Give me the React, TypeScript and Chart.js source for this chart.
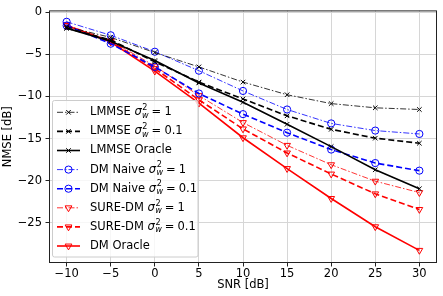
import React, { useEffect, useRef } from "react";
import { Chart, registerables } from "chart.js";
import { drawPoint } from "chart.js/helpers";
Chart.register(...registerables);

const snr = [-10, -5, 0, 5, 10, 15, 20, 25, 30];
const lmmse1 = [-1.75, -3.0, -4.8, -6.5, -8.3, -9.8, -10.85, -11.35, -11.55];
const lmmse01 = [-1.9, -3.3, -5.9, -8.3, -10.3, -12.3, -13.9, -14.95, -15.55];
const lmmseOracle = [-1.9, -3.45, -5.75, -8.4, -10.7, -13.3, -15.95, -18.7, -20.95];
const naive1 = [-1.15, -2.75, -4.7, -6.95, -9.35, -11.55, -13.2, -14.05, -14.45];
const naive01 = [-1.6, -3.75, -6.5, -9.65, -12.1, -14.3, -16.3, -17.9, -18.8];
const sure1 = [-1.5, -3.4, -6.4, -9.9, -13.1, -15.8, -18.1, -20.05, -21.4];
const sure01 = [-1.6, -3.5, -6.7, -10.4, -13.85, -16.7, -19.2, -21.55, -23.4];
const dmOracle = [-1.6, -3.55, -7.0, -10.8, -14.9, -18.55, -22.1, -25.45, -28.25];

const xTicks = [-10, -5, 0, 5, 10, 15, 20, 25, 30];
const yTicks = [0, -5, -10, -15, -20, -25];

const names = ["LMMSE", "LMMSE", "LMMSE Oracle", "DM Naive", "DM Naive", "SURE-DM", "SURE-DM", "DM Oracle"];
const sigmas = ["1", "0.1", "", "1", "0.1", "1", "0.1", ""];

const FONT = '"DejaVu Sans", "Liberation Sans", sans-serif';
const FS = 11.5;

const DASHDOT = [6, 2, 1.5, 2];
const DASHED = [6, 3];

const styles = [
  { color: "#000000", width: 0.8, dash: DASHDOT, marker: "crossRot", rot: 0, r: 3.2 },
  { color: "#000000", width: 1.6, dash: DASHED, marker: "crossRot", rot: 0, r: 3.2 },
  { color: "#000000", width: 1.6, dash: [], marker: "crossRot", rot: 0, r: 3.2 },
  { color: "#0000ff", width: 0.8, dash: DASHDOT, marker: "circle", rot: 0, r: 3.6 },
  { color: "#0000ff", width: 1.6, dash: DASHED, marker: "circle", rot: 0, r: 3.6 },
  { color: "#ff0000", width: 0.8, dash: DASHDOT, marker: "triangle", rot: 180, r: 3.9 },
  { color: "#ff0000", width: 1.6, dash: DASHED, marker: "triangle", rot: 180, r: 3.9 },
  { color: "#ff0000", width: 1.6, dash: [], marker: "triangle", rot: 180, r: 3.9 },
];

const series = [lmmse1, lmmse01, lmmseOracle, naive1, naive01, sure1, sure01, dmOracle];

function drawLegend(chart: any) {
  const ctx = chart.ctx as CanvasRenderingContext2D;
  const x0 = 52.5, y0 = 100.5, w = 145.5, h = 156.5;
  ctx.save();
  ctx.beginPath();
  const rr = 2;
  ctx.moveTo(x0 + rr, y0);
  ctx.lineTo(x0 + w - rr, y0);
  ctx.quadraticCurveTo(x0 + w, y0, x0 + w, y0 + rr);
  ctx.lineTo(x0 + w, y0 + h - rr);
  ctx.quadraticCurveTo(x0 + w, y0 + h, x0 + w - rr, y0 + h);
  ctx.lineTo(x0 + rr, y0 + h);
  ctx.quadraticCurveTo(x0, y0 + h, x0, y0 + h - rr);
  ctx.lineTo(x0, y0 + rr);
  ctx.quadraticCurveTo(x0, y0, x0 + rr, y0);
  ctx.closePath();
  ctx.fillStyle = "rgba(255,255,255,0.8)";
  ctx.fill();
  ctx.strokeStyle = "#cccccc";
  ctx.lineWidth = 1;
  ctx.stroke();

  for (let i = 0; i < names.length; i++) {
    const s = styles[i];
    const cy = 112.3 + i * 19.1;
    ctx.save();
    ctx.strokeStyle = s.color;
    ctx.lineWidth = s.width;
    ctx.setLineDash(s.dash);
    ctx.beginPath();
    ctx.moveTo(57, cy);
    ctx.lineTo(80, cy);
    ctx.stroke();
    ctx.setLineDash([]);
    ctx.lineWidth = 1;
    ctx.fillStyle = "rgba(0,0,0,0)";
    drawPoint(ctx, { pointStyle: s.marker as any, radius: s.r, rotation: s.rot, borderWidth: 1 } as any, 68.5, cy);
    ctx.restore();

    ctx.fillStyle = "#000";
    ctx.textBaseline = "middle";
    ctx.textAlign = "left";
    let x = 90;
    ctx.font = `${FS}px ${FONT}`;
    if (!sigmas[i]) {
      ctx.fillText(names[i], x, cy);
      continue;
    }
    const base = names[i] + " ";
    ctx.fillText(base, x, cy);
    x += ctx.measureText(base).width;
    ctx.font = `italic ${FS}px ${FONT}`;
    ctx.fillText("σ", x, cy);
    x += ctx.measureText("σ").width;
    const sm = FS * 0.7;
    ctx.font = `${sm}px ${FONT}`;
    const w2 = ctx.measureText("2").width;
    ctx.fillText("2", x + 0.6, cy - FS * 0.38);
    ctx.font = `italic ${sm}px ${FONT}`;
    const ww = ctx.measureText("w").width;
    ctx.fillText("w", x + 0.3, cy + FS * 0.3);
    x += Math.max(w2, ww) + 3.2;
    ctx.font = `${FS}px ${FONT}`;
    ctx.fillText("=", x, cy);
    x += ctx.measureText("=").width + 3.2;
    ctx.fillText(sigmas[i], x, cy);
  }
  ctx.restore();
}

const framePlugin = {
  id: "frameLegend",
  afterDatasetsDraw(chart: any) {
    const { ctx, chartArea: a } = chart;
    ctx.save();
    ctx.strokeStyle = "#222";
    ctx.lineWidth = 1;
    ctx.strokeRect(a.left + 0.5, a.top + 0.5, a.right - a.left - 1, a.bottom - a.top - 1);
    ctx.restore();
  },
  afterDraw(chart: any) {
    drawLegend(chart);
  },
};

const fmt = (v: number) => String(v).replace("-", "\u2212");

export default function App() {
  const ref = useRef<HTMLCanvasElement | null>(null);
  useEffect(() => {
    document.body.style.margin = "0";
    const canvas = ref.current!;
    const chart = new Chart(canvas, {
      type: "line",
      data: {
        datasets: series.map((vals, i) => ({
          label: names[i] + (sigmas[i] ? " σ_w^2 = " + sigmas[i] : ""),
          data: snr.map((x, j) => ({ x, y: vals[j] })),
          borderColor: styles[i].color,
          borderWidth: styles[i].width,
          borderDash: styles[i].dash,
          pointStyle: styles[i].marker as any,
          pointRotation: styles[i].rot,
          pointRadius: styles[i].r,
          pointBorderWidth: 1,
          pointBorderColor: styles[i].color,
          pointBackgroundColor: "rgba(0,0,0,0)",
          fill: false,
          tension: 0,
        })),
      },
      options: {
        animation: false,
        responsive: false,
        events: [],
        layout: { padding: { left: 0, top: 7, right: 6, bottom: 0 } },
        plugins: { legend: { display: false }, tooltip: { enabled: false } },
        scales: {
          x: {
            type: "linear",
            min: -12,
            max: 32,
            afterBuildTicks: (axis: any) => {
              axis.ticks = xTicks.map((v) => ({ value: v }));
            },
            afterFit: (s: any) => {
              s.height = 33;
            },
            grid: { color: "#d6d6d6", lineWidth: 1, drawTicks: true, tickLength: 3.5, tickColor: "#222" },
            border: { display: false },
            ticks: {
              padding: 0.5,
              color: "#000",
              font: { family: FONT, size: FS },
              maxRotation: 0,
              callback: (v: any) => fmt(Number(v)),
            },
            title: {
              display: true,
              text: "SNR [dB]",
              color: "#000",
              font: { family: FONT, size: FS },
              padding: { top: 0, bottom: 4.3 },
            },
          },
          y: {
            type: "linear",
            min: -29.75,
            max: 0.2,
            afterBuildTicks: (axis: any) => {
              axis.ticks = yTicks.map((v) => ({ value: v }));
            },
            afterFit: (s: any) => {
              s.width = 49;
            },
            grid: { color: "#d6d6d6", lineWidth: 1, drawTicks: true, tickLength: 3.5, tickColor: "#222" },
            border: { display: false },
            ticks: {
              padding: 3.5,
              color: "#000",
              font: { family: FONT, size: FS },
              callback: (v: any) => fmt(Number(v)),
            },
            title: {
              display: true,
              text: "NMSE [dB]",
              color: "#000",
              font: { family: FONT, size: FS },
              padding: { top: 1.4, bottom: 0 },
            },
          },
        },
      } as any,
      plugins: [framePlugin],
    });
    return () => chart.destroy();
  }, []);
  return (
    <div style={{ position: "absolute", left: 0, top: 0, width: 443, height: 296 }}>
      <canvas ref={ref} width={443} height={296} style={{ width: 443, height: 296, display: "block" }} />
    </div>
  );
}
